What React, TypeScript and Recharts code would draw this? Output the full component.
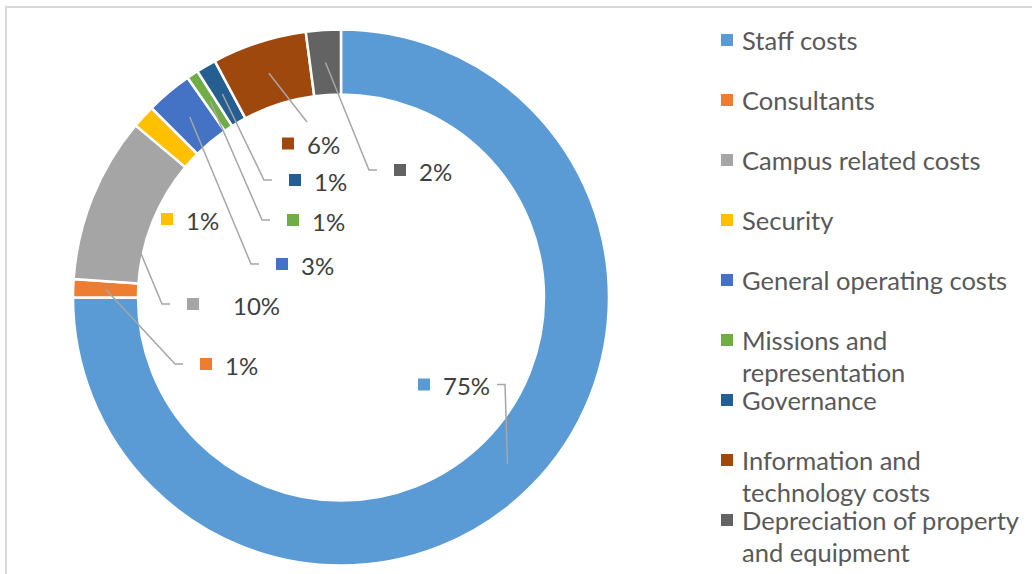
import { Legend, Pie, PieChart } from "recharts";

const categories = [
  "Staff costs",
  "Consultants",
  "Campus related costs",
  "Security",
  "General operating costs",
  "Missions and representation",
  "Governance",
  "Information and technology costs",
  "Depreciation of property and equipment"
];

const shares = [75.0, 1.1, 10.0, 1.4, 2.8, 0.7, 1.2, 5.7, 2.1];

const colors = [
  "#5B9BD5",
  "#ED7D31",
  "#A5A5A5",
  "#FFC000",
  "#4472C4",
  "#70AD47",
  "#255E91",
  "#9E480E",
  "#636363"
];

type LeaderMode = "toLeft" | "toRight" | "toTop" | "none";

// where each data label sits, relative to the pie centre (key square left edge, vertical centre)
const labelLayout: { dx: number; dy: number; leader: LeaderMode; textGap?: number }[] = [
  { dx: 77, dy: 87, leader: "toRight" },
  { dx: -141, dy: 66.5, leader: "toLeft" },
  { dx: -154, dy: 6.5, leader: "toLeft", textGap: 34 },
  { dx: -180, dy: -78.5, leader: "none" },
  { dx: -65, dy: -33.5, leader: "toLeft" },
  { dx: -54, dy: -77.5, leader: "toLeft" },
  { dx: -52, dy: -117.5, leader: "toLeft" },
  { dx: -59, dy: -154, leader: "toTop" },
  { dx: 53, dy: -127.5, leader: "toLeft" }
];

const FONT = "Lato, 'Open Sans', sans-serif";
const RAD = Math.PI / 180;

const data = categories.map((name, i) => ({ name, value: shares[i], fill: colors[i] }));

function renderLabel(props: any) {
  const { cx, cy, midAngle, innerRadius, outerRadius, percent, index } = props;
  const spot = labelLayout[index];
  const rMid = (innerRadius + outerRadius) / 2;
  const sx = cx + rMid * Math.cos(-midAngle * RAD);
  const sy = cy + rMid * Math.sin(-midAngle * RAD);
  const keyX = cx + spot.dx;
  const keyY = cy + spot.dy;
  const textX = keyX + 12 + (spot.textGap ?? 13);

  let points = "";
  if (spot.leader === "toLeft") {
    const endX = keyX - 17;
    points = `${sx},${sy} ${endX - 8},${keyY} ${endX},${keyY}`;
  } else if (spot.leader === "toRight") {
    const endX = keyX + 79;
    points = `${sx},${sy} ${endX + 8},${keyY} ${endX},${keyY}`;
  } else if (spot.leader === "toTop") {
    points = `${sx},${sy} ${keyX + 25},${keyY - 21.5}`;
  }

  return (
    <g key={`label-${index}`}>
      {points ? (
        <polyline points={points} fill="none" stroke="#A6A6A6" strokeWidth={1.5} />
      ) : null}
      <rect x={keyX} y={keyY - 6} width={12} height={12} fill={colors[index]} />
      <text
        x={textX}
        y={keyY + 1}
        fill="#404040"
        fontSize={24}
        fontFamily={FONT}
        dominantBaseline="central"
      >
        {`${Math.round(percent * 100)}%`}
      </text>
    </g>
  );
}

function renderLegend() {
  // keep the series order (the default payload comes back sorted by name)
  return (
    <div style={{ position: "relative", width: 310, height: 560 }}>
      {categories.map((name, i) => (
        <div
          key={name}
          style={{
            position: "absolute",
            left: 0,
            top: i * 60,
            display: "flex",
            alignItems: "flex-start",
            fontFamily: FONT,
            fontSize: 25.5,
            lineHeight: "32px",
            color: "#595959"
          }}
        >
          <span
            style={{
              width: 12,
              height: 12,
              marginTop: 10,
              marginRight: 9,
              background: colors[i],
              flex: "none"
            }}
          />
          <span style={{ width: 284 }}>{name}</span>
        </div>
      ))}
    </div>
  );
}

export default function App() {
  return (
    <div
      style={{
        position: "absolute",
        left: 0,
        top: 0,
        width: 1032,
        height: 574,
        background: "#fff",
        overflow: "hidden"
      }}
    >
      <div
        style={{
          position: "absolute",
          left: 5,
          top: 6,
          right: -2,
          bottom: -2,
          borderTop: "2px solid #D9D9D9",
          borderLeft: "2px solid #D9D9D9"
        }}
      />
      <PieChart width={1032} height={574} margin={{ top: 0, right: 0, bottom: 0, left: 0 }}>
        <Pie
          data={data}
          dataKey="value"
          nameKey="name"
          cx={341}
          cy={297.5}
          innerRadius={203}
          outerRadius={268}
          startAngle={90}
          endAngle={-270}
          stroke="#FFFFFF"
          strokeWidth={2.5}
          label={renderLabel}
          labelLine={false}
          isAnimationActive={false}
        />
        <Legend
          layout="vertical"
          align="right"
          verticalAlign="top"
          content={renderLegend}
          wrapperStyle={{ left: 721, top: 24, width: 310 }}
        />
      </PieChart>
    </div>
  );
}
